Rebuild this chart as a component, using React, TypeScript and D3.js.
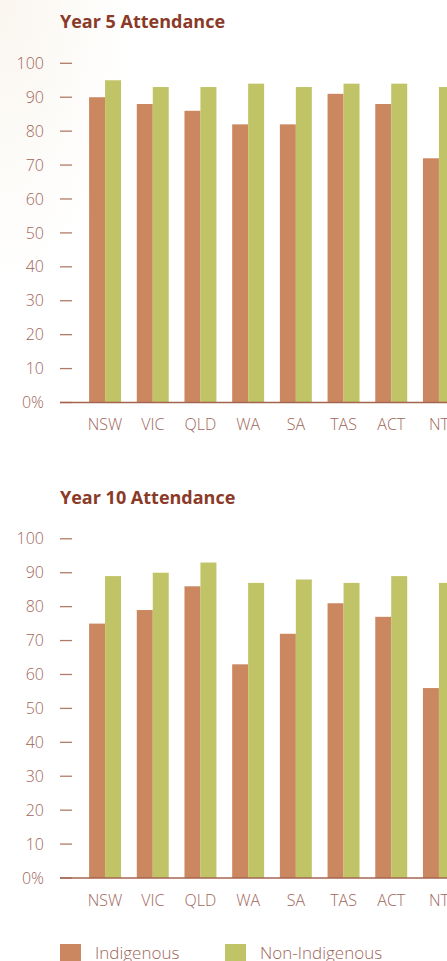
import React from "react";
import * as d3 from "d3";

const categories = ["NSW", "VIC", "QLD", "WA", "SA", "TAS", "ACT", "NT"];
const seriesNames = ["Indigenous", "Non-Indigenous"];
const year5Indigenous = [90, 88, 86, 82, 82, 91, 88, 72];
const year5NonIndigenous = [95, 93, 93, 94, 93, 94, 94, 93];
const year10Indigenous = [75, 79, 86, 63, 72, 81, 77, 56];
const year10NonIndigenous = [89, 90, 93, 87, 88, 87, 89, 87];
const yTicks = [0, 10, 20, 30, 40, 50, 60, 70, 80, 90, 100];
const tickLabel = (v: number) => (v === 0 ? "0%" : String(v));

const W = 447;
const H = 961;
const COLORS = ["#CB8860", "#C0C366"];
const TITLE_COLOR = "#8A3A27";
const LABEL_COLOR = "#A0665A";
const AXIS_COLOR = "#A4654F";
const FONT = "'Open Sans', 'Noto Sans', sans-serif";

const x = d3
  .scaleBand<string>()
  .domain(categories)
  .range([60, 484])
  .paddingInner(0.33)
  .paddingOuter(0.61);
const xInner = d3
  .scaleBand<string>()
  .domain(seriesNames)
  .range([0, x.bandwidth()])
  .padding(0);

function Panel({
  title,
  top,
  a,
  b,
}: {
  title: string;
  top: number;
  a: number[];
  b: number[];
}) {
  const y = d3.scaleLinear().domain([0, 100]).range([top + 402.5, top + 63.3]);
  const data = [a, b];
  return (
    <g>
      <text
        x={60}
        y={top + 28}
        fill={TITLE_COLOR}
        fontFamily={FONT}
        fontWeight={700}
        fontSize={18}
      >
        {title}
      </text>
      {yTicks.map((t) => (
        <g key={t}>
          <line
            x1={60}
            x2={72}
            y1={y(t)}
            y2={y(t)}
            stroke={AXIS_COLOR}
            strokeWidth={1.3}
            opacity={0.85}
          />
          <text
            x={44}
            y={y(t)}
            dy="0.35em"
            textAnchor="end"
            fill={LABEL_COLOR}
            fontFamily={FONT}
            fontWeight={300}
            fontSize={16}
          >
            {tickLabel(t)}
          </text>
        </g>
      ))}
      {categories.map((c, i) => (
        <g key={c}>
          {seriesNames.map((s, j) => (
            <rect
              key={s}
              x={(x(c) as number) + (xInner(s) as number)}
              y={y(data[j][i])}
              width={xInner.bandwidth()}
              height={y(0) - y(data[j][i])}
              fill={COLORS[j]}
            />
          ))}
          <text
            x={(x(c) as number) + x.bandwidth() / 2}
            y={top + 430}
            textAnchor="middle"
            fill={LABEL_COLOR}
            fontFamily={FONT}
            fontWeight={300}
            fontSize={16}
          >
            {c}
          </text>
        </g>
      ))}
      <line
        x1={60}
        x2={W}
        y1={y(0)}
        y2={y(0)}
        stroke={AXIS_COLOR}
        strokeWidth={1.5}
      />
    </g>
  );
}

export default function App() {
  return (
    <svg
      width={W}
      height={H}
      viewBox={`0 0 ${W} ${H}`}
      style={{ position: "absolute", left: 0, top: 0, display: "block" }}
    >
      <defs>
        <radialGradient id="bg" cx="0" cy="0" r="0.3">
          <stop offset="0" stopColor="#FAF6EF" />
          <stop offset="1" stopColor="#FFFFFF" />
        </radialGradient>
      </defs>
      <rect x={0} y={0} width={W} height={H} fill="#FFFFFF" />
      <rect x={0} y={0} width={W} height={H} fill="url(#bg)" />
      <Panel title="Year 5 Attendance" top={0} a={year5Indigenous} b={year5NonIndigenous} />
      <Panel title="Year 10 Attendance" top={475.5} a={year10Indigenous} b={year10NonIndigenous} />
      {seriesNames.map((s, j) => (
        <g key={s} transform={`translate(${j === 0 ? 60 : 225},944)`}>
          <rect x={0} y={0} width={21} height={21} fill={COLORS[j]} />
          <text
            x={35}
            y={15}
            fill={LABEL_COLOR}
            fontFamily={FONT}
            fontWeight={300}
            fontSize={17}
          >
            {s}
          </text>
        </g>
      ))}
    </svg>
  );
}
